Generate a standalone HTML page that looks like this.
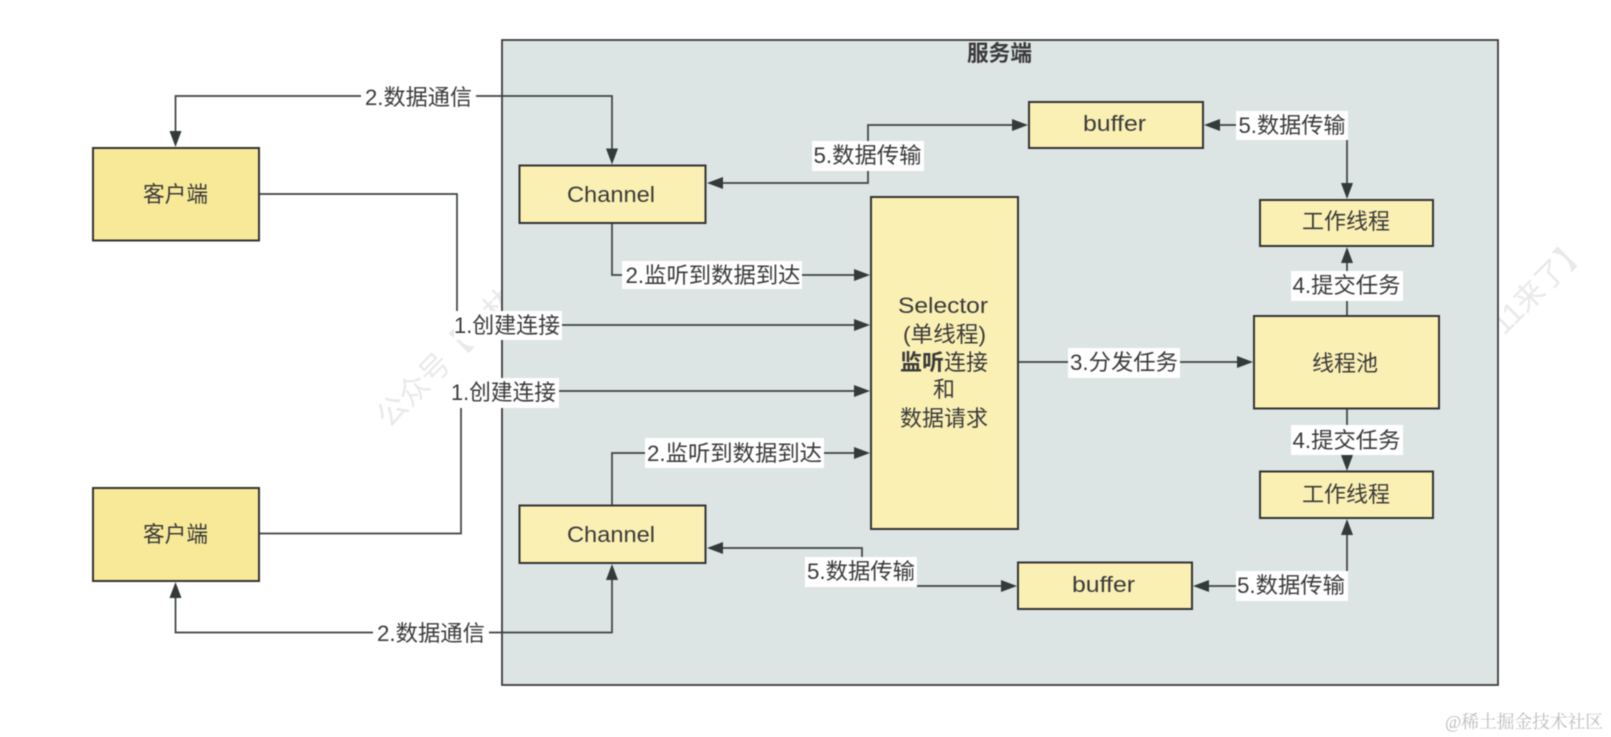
<!DOCTYPE html>
<html lang="zh">
<head>
<meta charset="utf-8">
<title>Selector diagram</title>
<style>
html,body{margin:0;padding:0;background:#fff;width:1611px;height:737px;overflow:hidden}
svg{display:block;filter:blur(0.4px)}
text{font-family:"Liberation Sans","Noto Sans CJK SC",sans-serif;font-size:22px;fill:#3a3a3a;font-weight:400}
.w{font-size:30px;fill:#e9e9e9;font-weight:400}
.b{fill:#fbf0b4;stroke:#333;stroke-width:2}
.c{fill:#f8e998;stroke:#333;stroke-width:2}
.l{fill:none;stroke:#3d4242;stroke-width:1.7}
.a{fill:#333a3a}
.g{fill:#fff}
</style>
</head>
<body>
<svg width="1611" height="737" viewBox="0 0 1611 737" xmlns="http://www.w3.org/2000/svg">
<rect width="1611" height="737" fill="#fff"/>
<!-- watermark -->
<text class="w" transform="translate(389,429) rotate(-45)">公众号【小林</text>
<text class="w" transform="translate(1504,336) rotate(-45)">11来了】</text>
<text x="1445" y="728" textLength="158" lengthAdjust="spacingAndGlyphs" style="font-size:18px;fill:#bdbdbd;font-family:'Liberation Serif','Noto Serif CJK SC',serif">@稀土掘金技术社区</text>

<!-- server -->
<rect x="502" y="40" width="996" height="645" fill="#dde4e4" stroke="#333" stroke-width="1.7"/>
<text x="967" y="61" textLength="65" lengthAdjust="spacingAndGlyphs" style="font-weight:700">服务端</text>

<!-- connectors -->
<path class="l" d="M175.500 135V96H612V152"/>
<path class="l" d="M259 194H457V325H858"/>
<path class="l" d="M259 533.500H461V391H858"/>
<path class="l" d="M612 223V275H858"/>
<path class="l" d="M612 505.500V453H858"/>
<path class="l" d="M175.500 594V632.500H612V576"/>
<path class="l" d="M719 183H868V125H1016"/>
<path class="l" d="M1216 125H1347V187"/>
<path class="l" d="M1347 316V259"/>
<path class="l" d="M1347 409V459"/>
<path class="l" d="M1018 362H1241"/>
<path class="l" d="M719 548H862V586H1005"/>
<path class="l" d="M1205 586H1347V531"/>

<!-- arrowheads -->
<path class="a" d="M175.500 147L169.500 131H181.500Z"/>
<path class="a" d="M612 164.500L606 148.500H618Z"/>
<path class="a" d="M175.500 582L169.500 598H181.500Z"/>
<path class="a" d="M612 564L606 580H618Z"/>
<path class="a" d="M870 275L854 269V281Z"/>
<path class="a" d="M870 325L854 319V331Z"/>
<path class="a" d="M870 391L854 385V397Z"/>
<path class="a" d="M870 453L854 447V459Z"/>
<path class="a" d="M707 183L723 177V189Z"/>
<path class="a" d="M707 548L723 542V554Z"/>
<path class="a" d="M1028 125L1012 119V131Z"/>
<path class="a" d="M1017 586L1001 580V592Z"/>
<path class="a" d="M1204 125L1220 119V131Z"/>
<path class="a" d="M1193 586L1209 580V592Z"/>
<path class="a" d="M1347 199L1341 183H1353Z"/>
<path class="a" d="M1347 247L1341 263H1353Z"/>
<path class="a" d="M1347 471L1341 455H1353Z"/>
<path class="a" d="M1347 519L1341 535H1353Z"/>
<path class="a" d="M1253 362L1237 356V368Z"/>

<!-- label backgrounds -->
<rect class="g" x="361" y="82" width="115" height="29"/>
<rect class="g" x="454" y="311" width="108" height="29"/>
<rect class="g" x="448" y="378" width="111" height="30"/>
<rect class="g" x="622" y="261" width="180" height="28"/>
<rect class="g" x="645" y="438" width="179" height="30"/>
<rect class="g" x="373" y="618" width="116" height="29"/>
<rect class="g" x="812" y="141" width="112" height="30"/>
<rect class="g" x="1236" y="111" width="112" height="29"/>
<rect class="g" x="1291" y="271" width="112" height="30"/>
<rect class="g" x="1291" y="425" width="112" height="30"/>
<rect class="g" x="1068" y="348" width="112" height="30"/>
<rect class="g" x="805" y="557" width="112" height="30"/>
<rect class="g" x="1236" y="571" width="112" height="30"/>

<!-- boxes -->
<rect class="c" x="93" y="148" width="166" height="92.500"/>
<rect class="c" x="93" y="488" width="166" height="93"/>
<rect class="b" x="519.500" y="165.500" width="186" height="57.500"/>
<rect class="b" x="519.500" y="505.500" width="186" height="57.500"/>
<rect class="b" x="1029" y="102" width="174" height="46"/>
<rect class="b" x="1018" y="562.500" width="174" height="46.500"/>
<rect class="b" x="871" y="197" width="147" height="332"/>
<rect class="b" x="1260" y="200" width="173" height="46"/>
<rect class="b" x="1260" y="471.500" width="173" height="46.500"/>
<rect class="b" x="1254" y="316" width="185" height="92.500"/>

<!-- box text -->
<text x="143" y="202" textLength="65" lengthAdjust="spacingAndGlyphs">客户端</text>
<text x="143" y="542" textLength="65" lengthAdjust="spacingAndGlyphs">客户端</text>
<text x="567" y="202" textLength="88" lengthAdjust="spacingAndGlyphs">Channel</text>
<text x="567" y="542" textLength="88" lengthAdjust="spacingAndGlyphs">Channel</text>
<text x="1083" y="131" textLength="63" lengthAdjust="spacingAndGlyphs">buffer</text>
<text x="1072" y="592" textLength="63" lengthAdjust="spacingAndGlyphs">buffer</text>
<text x="1302" y="229" textLength="88" lengthAdjust="spacingAndGlyphs">工作线程</text>
<text x="1302" y="502" textLength="88" lengthAdjust="spacingAndGlyphs">工作线程</text>
<text x="1312" y="371" textLength="66" lengthAdjust="spacingAndGlyphs">线程池</text>
<text x="898" y="313" textLength="90" lengthAdjust="spacingAndGlyphs">Selector</text>
<text x="903" y="342" textLength="83" lengthAdjust="spacingAndGlyphs">(单线程)</text>
<text x="900" y="370"><tspan style="font-weight:700">监听</tspan>连接</text>
<text x="933" y="397">和</text>
<text x="900" y="426" textLength="88" lengthAdjust="spacingAndGlyphs">数据请求</text>

<!-- edge labels -->
<text x="365" y="105" textLength="107" lengthAdjust="spacingAndGlyphs">2.数据通信</text>
<text x="454" y="333" textLength="106" lengthAdjust="spacingAndGlyphs">1.创建连接</text>
<text x="451" y="400" textLength="105" lengthAdjust="spacingAndGlyphs">1.创建连接</text>
<text x="625.500" y="283" textLength="175" lengthAdjust="spacingAndGlyphs">2.监听到数据到达</text>
<text x="647" y="461" textLength="175" lengthAdjust="spacingAndGlyphs">2.监听到数据到达</text>
<text x="377" y="641" textLength="108" lengthAdjust="spacingAndGlyphs">2.数据通信</text>
<text x="813.500" y="163" textLength="108" lengthAdjust="spacingAndGlyphs">5.数据传输</text>
<text x="1238.500" y="133" textLength="107" lengthAdjust="spacingAndGlyphs">5.数据传输</text>
<text x="1292.500" y="293" textLength="108" lengthAdjust="spacingAndGlyphs">4.提交任务</text>
<text x="1292.500" y="448" textLength="108" lengthAdjust="spacingAndGlyphs">4.提交任务</text>
<text x="1070" y="370" textLength="108" lengthAdjust="spacingAndGlyphs">3.分发任务</text>
<text x="807" y="579" textLength="108" lengthAdjust="spacingAndGlyphs">5.数据传输</text>
<text x="1237" y="593" textLength="108" lengthAdjust="spacingAndGlyphs">5.数据传输</text>
</svg>
</body>
</html>
